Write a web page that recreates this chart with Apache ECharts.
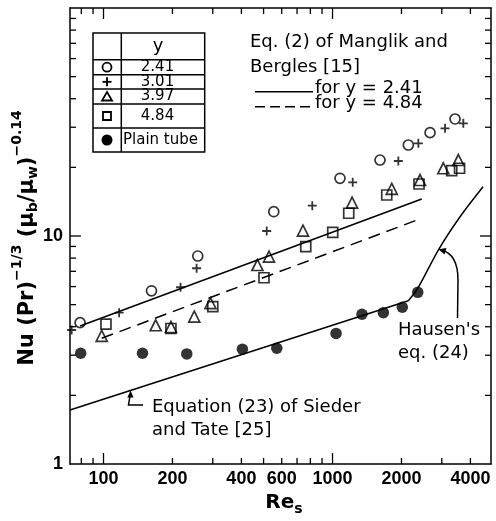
<!DOCTYPE html>
<html><head><meta charset="utf-8">
<script src="https://cdn.jsdelivr.net/npm/echarts@6/dist/echarts.min.js"></script>
<style>html,body{margin:0;padding:0;background:#fff}#c{width:496px;height:521px}</style>
</head><body><div id="c"></div><script>
// ---- data ----
const reCircle = [79, 162, 258, 554, 1078, 1612, 2143, 2666, 3427];
const nuCircle = [4.17, 5.75, 8.17, 12.78, 17.91, 21.54, 25.07, 28.39, 32.6];
const rePlus = [72.6, 117, 217, 255, 516, 816, 1225, 1938, 2370, 3099, 3725];
const nuPlus = [3.87, 4.61, 5.96, 7.22, 10.52, 13.58, 17.2, 21.33, 25.5, 29.68, 31.2];
const reTri = [98.2, 169, 197, 249, 293, 470, 528, 743, 1217, 1814, 2411, 3046, 3543];
const nuTri = [3.65, 4.06, 3.99, 4.43, 5.08, 7.46, 8.12, 10.55, 14.0, 16.08, 17.6, 19.82, 21.54];
const reSq = [102.5, 197, 300, 502, 764, 1002, 1177, 1725, 2386, 3315, 3586];
const nuSq = [4.11, 3.93, 4.9, 6.56, 8.98, 10.38, 12.58, 15.13, 16.91, 19.34, 19.82];
const rePlain = [79.5, 148, 231, 404, 571, 1036, 1345, 1667, 2017, 2356];
const nuPlain = [3.06, 3.06, 3.04, 3.19, 3.22, 3.74, 4.54, 4.61, 4.87, 5.66];
const reMang241 = [79, 2452];
const nuMang241 = [4.03, 14.53];
const reMang484 = [98.2, 2452];
const nuMang484 = [3.56, 11.96];
const reSieder = [71.4, 2143];
const nuSieder = [1.725, 5.2];
const reHausen = [2143, 2362, 2897, 3605, 4542];
const nuHausen = [5.2, 5.92, 8.68, 12.15, 16.45];

const X_MIN = 71.4, X_MAX = 4920, Y_MIN = 1, Y_MAX = 100;
const xTickMinor = [80, 90, 200, 300, 400, 500, 600, 700, 800, 900, 2000, 3000, 4000];
const xTickMajor = [100, 1000];
const xLabels = [100, 200, 400, 600, 1000, 2000, 4000];
const yTickMinor = [2, 3, 4, 5, 6, 7, 8, 9, 20, 30, 40, 50, 60, 70, 80, 90];
const yTickMajor = [10];
const yLabels = [1, 10];
const tableY = ['2.41', '3.01', '3.97', '4.84'];

// ---- chart ----
const pairs = (xs, ys) => xs.map((x, i) => [x, ys[i]]);
const K = '#000';
const lblStyle = {color: K, fontFamily: 'Liberation Sans', fontWeight: 'bold', fontSize: 18};

function mkAxis(type, position, labels) {
  const isX = type === 'x';
  return {
    type: 'log', logBase: 10,
    min: isX ? X_MIN : Y_MIN, max: isX ? X_MAX : Y_MAX,
    position,
    axisLine: {show: true, onZero: false, lineStyle: {color: K, width: 1.5}},
    axisTick: {show: false},
    axisLabel: labels ? Object.assign({show: true, customValues: labels,
      formatter: v => String(Math.round(v)), margin: isX ? 6 : 7}, lblStyle) : {show: false},
    splitLine: {show: false}, minorTick: {show: false}, minorSplitLine: {show: false}
  };
}

const hollow = {color: 'rgba(0,0,0,0)', borderColor: K, borderWidth: 1.7};
const plusPath = 'path://M4,0H6V4H10V6H6V10H4V6H0V4H4Z';

function T(text, x, y, extra) {
  return {type: 'text', x, y, silent: true,
    style: Object.assign({text, fill: K, fontFamily: 'DejaVu Sans', fontSize: 18,
      align: 'left', verticalAlign: 'middle'}, extra || {})};
}
const L = (x1, y1, x2, y2, extra) => ({type: 'line', silent: true,
  shape: {x1, y1, x2, y2}, style: Object.assign({stroke: K, lineWidth: 1.5}, extra || {})});

// legend table geometry
const tb = {x0: 93, x1: 204.7, xm: 121.3, rows: [33, 59.7, 74.7, 89, 104, 128, 152]};
const rowC = i => (tb.rows[i] + tb.rows[i + 1]) / 2;
const sx = 107;
const gTable = [
  {type: 'rect', silent: true, shape: {x: tb.x0, y: tb.rows[0], width: tb.x1 - tb.x0, height: tb.rows[6] - tb.rows[0]},
    style: {fill: 'none', stroke: K, lineWidth: 1.5}},
  L(tb.xm, tb.rows[0], tb.xm, tb.rows[6]),
  ...tb.rows.slice(1, 6).map(y => L(tb.x0, y, tb.x1, y)),
  T('y', 158, rowC(0), {align: 'center', fontSize: 18}),
  ...tableY.map((t, i) => T(t, 157.5, rowC(i + 1), {align: 'center', fontSize: 15})),
  T('Plain tube', 123, rowC(5), {fontSize: 15}),
  {type: 'circle', silent: true, shape: {cx: sx, cy: rowC(1), r: 4.5}, style: {fill: 'none', stroke: K, lineWidth: 1.8}},
  L(sx - 4.5, rowC(2), sx + 4.5, rowC(2), {lineWidth: 1.9}),
  L(sx, rowC(2) - 4.5, sx, rowC(2) + 4.5, {lineWidth: 1.9}),
  {type: 'polygon', silent: true, shape: {points: [[sx, rowC(3) - 4.5], [sx + 5, rowC(3) + 4], [sx - 5, rowC(3) + 4]]},
    style: {fill: 'none', stroke: K, lineWidth: 1.8}},
  {type: 'rect', silent: true, shape: {x: sx - 4, y: rowC(4) - 4, width: 8, height: 8}, style: {fill: 'none', stroke: K, lineWidth: 1.8}},
  {type: 'circle', silent: true, shape: {cx: sx, cy: rowC(5), r: 5.5}, style: {fill: K}}
];

const gText = [
  T('Eq. (2) of Manglik and', 250, 42),
  T('Bergles [15]', 250, 67),
  L(255, 91.7, 313, 91.7),
  T('for y = 2.41', 315, 88),
  L(255, 106.7, 313, 106.7, {lineDash: [10, 5]}),
  T('for y = 4.84', 315, 103),
  T("Hausen's", 398, 330),
  T('eq. (24)', 398, 353),
  T('Equation (23) of Sieder', 152, 407),
  T('and Tate [25]', 152, 430),
  // arrows
  L(457.5, 318, 458, 280),
  {type: 'bezierCurve', silent: true, shape: {x1: 458, y1: 280, cpx1: 458, cpy1: 262, cpx2: 452, cpy2: 253, x2: 442, y2: 250.3},
    style: {fill: 'none', stroke: K, lineWidth: 1.5}},
  {type: 'polygon', silent: true, shape: {points: [[438.5, 249.2], [446.5, 248], [444.5, 254.5]]}, style: {fill: K}},
  {type: 'polyline', silent: true, shape: {points: [[143, 405], [128.5, 405], [130.3, 394]]},
    style: {fill: 'none', stroke: K, lineWidth: 1.5}},
  {type: 'polygon', silent: true, shape: {points: [[130.6, 390.5], [127.3, 397.5], [133.5, 397.5]]}, style: {fill: K}},
  // axis names
  {type: 'text', x: 28, y: 238, rotation: Math.PI / 2, silent: true,
    style: {text: '{m|Nu (Pr)}{s|\u22121/3}{m| (\u03bc}{b|b}{m|/\u03bc}{b|w}{m|)}{s|\u22120.14}',
      align: 'center', verticalAlign: 'middle',
      rich: {
        m: {fontFamily: 'DejaVu Sans', fontWeight: 'bold', fontSize: 21, lineHeight: 36, fill: K},
        s: {fontFamily: 'DejaVu Sans', fontWeight: 'bold', fontSize: 14, lineHeight: 13, verticalAlign: 'top', fill: K},
        b: {fontFamily: 'DejaVu Sans', fontWeight: 'bold', fontSize: 14, lineHeight: 13, padding: [10, 0, 0, 0], fill: K}
      }}},
  {type: 'text', x: 284, y: 503, silent: true,
    style: {text: '{m|Re}{b|s}', align: 'center', verticalAlign: 'middle',
      rich: {
        m: {fontFamily: 'DejaVu Sans', fontWeight: 'bold', fontSize: 20, lineHeight: 26, fill: K},
        b: {fontFamily: 'DejaVu Sans', fontWeight: 'bold', fontSize: 14, lineHeight: 12, padding: [12, 0, 0, 0], fill: K}
      }}}
];

const lineS = (xs, ys, extra) => Object.assign({type: 'line', data: pairs(xs, ys), symbol: 'none', silent: true,
  lineStyle: {color: K, width: 1.5}, z: 2}, extra || {});
const scat = (xs, ys, symbol, size, itemStyle) => ({type: 'scatter', data: pairs(xs, ys), symbol, symbolSize: size,
  itemStyle, silent: true, z: 3});

const chart = echarts.init(document.getElementById('c'), null, {renderer: 'canvas'});
chart.setOption({
  animation: false,
  backgroundColor: '#fff',
  grid: {left: 70, right: 5, top: 8, bottom: 57, outerBoundsMode: 'none'},
  xAxis: [mkAxis('x', 'bottom', xLabels), mkAxis('x', 'top', null)],
  yAxis: [mkAxis('y', 'left', yLabels), mkAxis('y', 'right', null)],
  series: [
    lineS(reMang241, nuMang241),
    lineS(reMang484, nuMang484, {lineStyle: {color: K, width: 1.5, type: [12, 7]}}),
    lineS(reSieder, nuSieder),
    lineS(reHausen, nuHausen, {smooth: 0.3}),
    scat(reCircle, nuCircle, 'circle', 10, hollow),
    scat(rePlus, nuPlus, plusPath, 9, {color: K}),
    scat(reTri, nuTri, 'triangle', 11, hollow),
    scat(reSq, nuSq, 'rect', 10, hollow),
    scat(rePlain, nuPlain, 'circle', 11.5, {color: K})
  ]
});

// inward ticks on all four sides, positioned through the axes' own scales
const px = v => chart.convertToPixel({xAxisIndex: 0}, v);
const py = v => chart.convertToPixel({yAxisIndex: 0}, v);
const gl = px(X_MIN), gr = px(X_MAX), gt = py(Y_MAX), gb = py(Y_MIN);
const tickEls = [];
const tw = {lineWidth: 1.3};
const addX = (vals, len) => vals.forEach(v => {
  const x = px(v);
  tickEls.push(L(x, gb, x, gb - len, tw), L(x, gt, x, gt + len, tw));
});
const addY = (vals, len) => vals.forEach(v => {
  const y = py(v);
  tickEls.push(L(gl, y, gl + len, y, tw), L(gr, y, gr - len, y, tw));
});
addX(xTickMinor, 6); addX(xTickMajor, 11);
addY(yTickMinor, 6); addY(yTickMajor, 11);

chart.setOption({graphic: gTable.concat(gText, tickEls)});
</script></body></html>
